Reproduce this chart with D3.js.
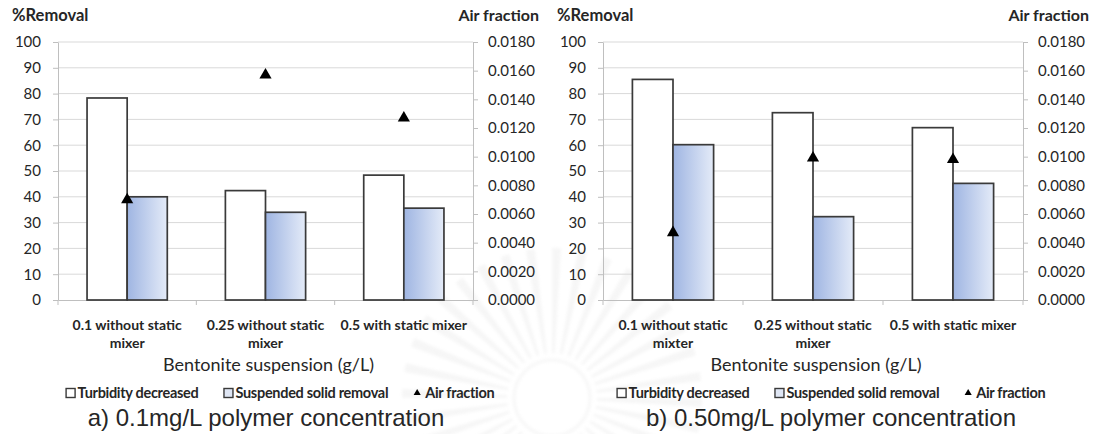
<!DOCTYPE html>
<html>
<head>
<meta charset="utf-8">
<script src="https://cdn.jsdelivr.net/npm/d3@7/dist/d3.min.js"></script>
<style>
  html, body { margin: 0; padding: 0; background: #ffffff; }
  svg { display: block; }
  text { font-family: Lato, "Open Sans", sans-serif; fill: #262626; }
</style>
</head>
<body>
<svg id="chart" width="1097" height="434"></svg>
<script>
// Removal efficiency (%) and air fraction for three bentonite suspensions
const categoriesA = ["0.1 without static mixer", "0.25 without static mixer", "0.5 with static mixer"];
const categoriesB = ["0.1 without static mixter", "0.25 without static mixer", "0.5 with static mixer"];

const turbidityA = [78.3, 42.4, 48.4];
const suspendedA = [40.0, 34.0, 35.6];
const airFractionA = [0.0070, 0.0157, 0.0127];

const turbidityB = [85.5, 72.6, 66.8];
const suspendedB = [60.2, 32.3, 45.2];
const airFractionB = [0.0047, 0.0099, 0.0098];

const removalTicks = [0, 10, 20, 30, 40, 50, 60, 70, 80, 90, 100];
const airTicks = [0, 0.002, 0.004, 0.006, 0.008, 0.010, 0.012, 0.014, 0.016, 0.018];

const seriesNames = ["Turbidity decreased", "Suspended solid removal", "Air fraction"];
const panelTitles = ["a) 0.1mg/L polymer concentration", "b) 0.50mg/L polymer concentration"];
const xAxisTitle = "Bentonite suspension (g/L)";
const leftAxisTitle = "%Removal";
const rightAxisTitle = "Air fraction";

const svg = d3.select("#chart");

// faint emblem in the page background
const blur = svg.append("defs").append("filter").attr("id", "soft");
blur.append("feGaussianBlur").attr("stdDeviation", 1.5);
const emblem = svg.append("g").attr("transform", "translate(552,398)")
  .attr("opacity", 0.35).attr("filter", "url(#soft)");
const rayArc = d3.arc().innerRadius(45).outerRadius(150);
emblem.selectAll("path").data(d3.range(36)).join("path")
  .attr("d", i => rayArc({ startAngle: i * Math.PI / 18, endAngle: i * Math.PI / 18 + 0.06 }))
  .attr("fill", "#e6e6e6");
emblem.append("circle").attr("r", 38).attr("fill", "none").attr("stroke", "#e8e8e8").attr("stroke-width", 3);

// shared gradient for the suspended-solid bars
const defs = svg.append("defs");
const grad = defs.append("linearGradient").attr("id", "ssFill")
  .attr("x1", "0%").attr("x2", "100%").attr("y1", "0%").attr("y2", "0%");
grad.append("stop").attr("offset", "0%").attr("stop-color", "#9fb5e2");
grad.append("stop").attr("offset", "100%").attr("stop-color", "#e4ebf8");

function wrap(textSel, width) {
  textSel.each(function () {
    const text = d3.select(this);
    const words = text.text().split(/\s+/);
    const y = text.attr("y");
    const dy = parseFloat(text.attr("dy")) || 0;
    text.text(null);
    let line = [];
    let lineNo = 0;
    let tspan = text.append("tspan").attr("x", 0).attr("y", y).attr("dy", dy + "em");
    for (const w of words) {
      line.push(w);
      tspan.text(line.join(" "));
      if (tspan.node().getComputedTextLength() > width && line.length > 1) {
        line.pop();
        tspan.text(line.join(" "));
        line = [w];
        lineNo++;
        tspan = text.append("tspan").attr("x", 0).attr("y", y)
          .attr("dy", (lineNo * 1.3 + dy) + "em").text(w);
      }
    }
  });
}

function drawPanel(p) {
  const g = svg.append("g");
  const top = 42, bottom = 300;

  const y = d3.scaleLinear().domain([0, 100]).range([bottom, top]);
  const yAir = d3.scaleLinear().domain([0, 0.018]).range([bottom, top]);
  const x = d3.scaleBand().domain(p.categories).range([p.x0, p.x1])
    .paddingInner(0.42).paddingOuter(0.21);
  const xs = d3.scaleBand().domain(["turb", "ss"]).range([0, x.bandwidth()]);

  // horizontal gridlines
  g.append("g").selectAll("line")
    .data(removalTicks.filter(d => d > 0))
    .join("line")
    .attr("x1", p.x0).attr("x2", p.x1)
    .attr("y1", d => y(d)).attr("y2", d => y(d))
    .attr("stroke", "#d9d9d9").attr("stroke-width", 1);

  // left axis
  const la = g.append("g").attr("transform", `translate(${p.x0},0)`)
    .call(d3.axisLeft(y).tickValues(removalTicks).tickSize(5).tickPadding(12).tickSizeOuter(0));
  la.select(".domain").attr("stroke", "#bfbfbf");
  la.selectAll(".tick line").attr("stroke", "#bfbfbf");
  la.selectAll(".tick text").style("font-family", "Lato").style("font-size", "15px").attr("fill", "#262626");

  // right axis
  const ra = g.append("g").attr("transform", `translate(${p.x1},0)`)
    .call(d3.axisRight(yAir).tickValues(airTicks).tickFormat(d3.format(".4f"))
      .tickSize(5).tickPadding(10).tickSizeOuter(0));
  ra.select(".domain").attr("stroke", "#bfbfbf");
  ra.selectAll(".tick line").attr("stroke", "#bfbfbf");
  ra.selectAll(".tick text").style("font-family", "Lato").style("font-size", "15px").attr("fill", "#262626");

  // bottom axis with category labels
  const ba = g.append("g").attr("transform", `translate(0,${bottom})`)
    .call(d3.axisBottom(x).tickSize(0).tickPadding(20).tickSizeOuter(0));
  ba.select(".domain").attr("stroke", "#bfbfbf");
  ba.selectAll(".tick text")
    .style("font-family", "Lato").style("font-size", "14px").style("font-weight", "700")
    .attr("fill", "#262626")
    .call(wrap, x.step() - 6);
  // category separator ticks
  g.append("g").selectAll("line")
    .data(d3.range(p.categories.length + 1))
    .join("line")
    .attr("x1", i => x.range()[0] + i * x.step())
    .attr("x2", i => x.range()[0] + i * x.step())
    .attr("y1", bottom).attr("y2", bottom + 5)
    .attr("stroke", "#bfbfbf");

  // bars
  const rows = p.categories.map((c, i) => ({ c, turb: p.turbidity[i], ss: p.suspended[i], air: p.air[i] }));
  const bars = g.append("g");
  bars.selectAll("rect.turb").data(rows).join("rect").attr("class", "turb")
    .attr("x", d => x(d.c) + xs("turb"))
    .attr("width", xs.bandwidth())
    .attr("y", d => y(d.turb))
    .attr("height", d => y(0) - y(d.turb))
    .attr("fill", "#ffffff").attr("stroke", "#3a3a3a").attr("stroke-width", 1.7);
  bars.selectAll("rect.ss").data(rows).join("rect").attr("class", "ss")
    .attr("x", d => x(d.c) + xs("ss"))
    .attr("width", xs.bandwidth())
    .attr("y", d => y(d.ss))
    .attr("height", d => y(0) - y(d.ss))
    .attr("fill", "url(#ssFill)").attr("stroke", "#3a3a3a").attr("stroke-width", 1.7);

  // air fraction markers
  g.append("g").selectAll("path").data(rows).join("path")
    .attr("d", d3.symbol(d3.symbolTriangle, 64))
    .attr("transform", d => `translate(${x(d.c) + x.bandwidth() / 2},${yAir(d.air)})`)
    .attr("fill", "#000");

  // axis titles
  g.append("text").attr("x", p.x0 - 46).attr("y", 21)
    .style("font-size", "16.5px").style("font-weight", "700").attr("fill", "#262626")
    .text(leftAxisTitle);
  g.append("text").attr("x", p.x1 + 66).attr("y", 21).attr("text-anchor", "end")
    .style("font-size", "16px").style("font-weight", "700").attr("fill", "#262626")
    .text(rightAxisTitle);
  g.append("text").attr("x", (p.x0 + p.x1) / 2 + 3).attr("y", 365).attr("dy", "0.35em")
    .attr("text-anchor", "middle").style("font-size", "18px").attr("fill", "#262626")
    .text(xAxisTitle);

  // legend
  const lg = g.append("g");
  let cx = 0;
  const ly = 393;
  seriesNames.forEach((name, i) => {
    const item = lg.append("g");
    if (i < 2) {
      item.append("rect").attr("x", cx + 0.5).attr("y", ly - 4.5).attr("width", 9).attr("height", 9)
        .attr("fill", i === 0 ? "#ffffff" : "#dfe6f4")
        .attr("stroke", "#3a3a3a").attr("stroke-width", 1.4);
    } else {
      item.append("path").attr("d", d3.symbol(d3.symbolTriangle, 22))
        .attr("transform", `translate(${cx + 4},${ly})`).attr("fill", "#000");
    }
    const t = item.append("text").attr("x", cx + 12).attr("y", ly).attr("dy", "0.35em")
      .style("font-size", "14.5px").style("font-weight", "700").attr("fill", "#262626")
      .style("letter-spacing", "-0.3px")
      .text(name);
    cx += 12 + t.node().getComputedTextLength() + 25;
  });
  const lw = cx - 25;
  lg.attr("transform", `translate(${p.legendCenter - lw / 2},0)`);

  // panel caption
  g.append("text").attr("x", p.titleCenter).attr("y", 418).attr("dy", "0.35em")
    .attr("text-anchor", "middle")
    .style("font-family", "'Liberation Sans', Arial, sans-serif").style("font-size", "24px")
    .attr("fill", "#555555")
    .text(p.title);
}

drawPanel({ x0: 58, x1: 473, categories: categoriesA, turbidity: turbidityA, suspended: suspendedA,
  air: airFractionA, title: panelTitles[0], legendCenter: 280, titleCenter: 266 });
drawPanel({ x0: 603, x1: 1023, categories: categoriesB, turbidity: turbidityB, suspended: suspendedB,
  air: airFractionB, title: panelTitles[1], legendCenter: 831, titleCenter: 831 });
</script>
</body>
</html>
